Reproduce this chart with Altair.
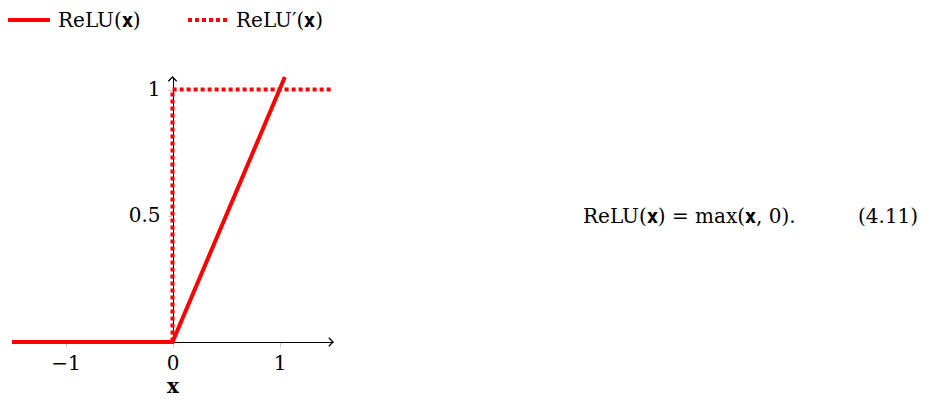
import altair as alt
import pandas as pd

# data
relu_x = [-1.5, 0.0, 1.05]
relu_y = [0.0, 0.0, 1.05]
deriv_x = [-1.5, 0.0, 0.0, 1.5]
deriv_y = [0.0, 0.0, 1.0, 1.0]
x_ticks = [-1, 0, 1]
y_ticks = [0.5, 1]
x_domain = [-1.5, 1.5]
y_domain = [0, 1.05]
legend_labels = ["ReLU(𝐱)", "ReLU′(𝐱)"]
equation = "ReLU(𝐱) = max(𝐱, 0)."
eq_number = "(4.11)"

FONT = "DejaVu Serif"
FS = 20
RED = "#ff0000"

relu_df = pd.DataFrame({"x": relu_x, "y": relu_y, "i": range(len(relu_x))})
deriv_df = pd.DataFrame({"x": deriv_x, "y": deriv_y, "i": range(len(deriv_x))})

xs = alt.Scale(domain=x_domain, nice=False, zero=False)
ys = alt.Scale(domain=y_domain, nice=False, zero=False)

x_axis = alt.Axis(values=x_ticks, format="~g", domainColor="black", domainWidth=1, tickColor="#c8c8c8",
                  tickSize=5, labelFont=FONT, labelFontSize=FS, labelColor="black",
                  labelPadding=6, grid=False, title="x", titleFont=FONT, titleFontSize=FS,
                  titleFontWeight="bold", titleColor="black", titlePadding=3)
y_axis = alt.Axis(values=y_ticks, format="~g", orient="left", offset=-161, domainColor="black", domainWidth=1,
                  tickColor="#c8c8c8", tickSize=5, labelFont=FONT, labelFontSize=FS,
                  labelColor="black", labelPadding=8, grid=False, title=None)

deriv = alt.Chart(deriv_df).mark_line(color=RED, strokeWidth=4, strokeDash=[4, 3]).encode(
    x=alt.X("x:Q", scale=xs, axis=x_axis),
    y=alt.Y("y:Q", scale=ys, axis=y_axis),
    order="i:Q",
)
relu = alt.Chart(relu_df).mark_line(color=RED, strokeWidth=4).encode(
    x=alt.X("x:Q", scale=xs),
    y=alt.Y("y:Q", scale=ys),
    order="i:Q",
)

arrow_df_x = pd.DataFrame({"x": [x_domain[1]], "y": [0.0]})
arrow_df_y = pd.DataFrame({"x": [0.0], "y": [y_domain[1]]})
arrow_x = alt.Chart(arrow_df_x).mark_point(shape="M -1 -1 L 0 0 L -1 1", size=70, filled=False,
                                           stroke="black", strokeWidth=1.3, opacity=1).encode(
    x=alt.X("x:Q", scale=xs), y=alt.Y("y:Q", scale=ys))
arrow_y = alt.Chart(arrow_df_y).mark_point(shape="M -1 1 L 0 0 L 1 1", size=70, filled=False,
                                           stroke="black", strokeWidth=1.3, opacity=1).encode(
    x=alt.X("x:Q", scale=xs), y=alt.Y("y:Q", scale=ys))

# legend
one = pd.DataFrame({"a": [0]})
leg_solid = alt.Chart(one).mark_rule(color=RED, strokeWidth=4).encode(
    x=alt.value(-4), x2=alt.value(38), y=alt.value(-57))
leg_dot = alt.Chart(one).mark_rule(color=RED, strokeWidth=4, strokeDash=[4, 3]).encode(
    x=alt.value(176), x2=alt.value(216), y=alt.value(-57))
leg_t1 = alt.Chart(one).mark_text(text=legend_labels[0], font=FONT, fontSize=FS, align="left",
                                  baseline="middle", color="black").encode(
    x=alt.value(46), y=alt.value(-56))
leg_t2 = alt.Chart(one).mark_text(text=legend_labels[1], font=FONT, fontSize=FS, align="left",
                                  baseline="middle", color="black").encode(
    x=alt.value(224), y=alt.value(-56))

eq = alt.Chart(one).mark_text(text=equation, font=FONT, fontSize=FS, align="left",
                              baseline="middle", color="black").encode(
    x=alt.value(571), y=alt.value(140))
eqn = alt.Chart(one).mark_text(text=eq_number, font=FONT, fontSize=FS, align="left",
                               baseline="middle", color="black").encode(
    x=alt.value(846), y=alt.value(140))

chart = alt.layer(deriv, relu, arrow_x, arrow_y, leg_solid, leg_dot, leg_t1, leg_t2, eq, eqn).properties(
    width=321, height=265,
    autosize=alt.AutoSizeParams(type="none"),
    padding={"left": 4, "top": 69, "right": 593, "bottom": 55},
    background="white",
).configure_view(stroke=None)

chart.save("out.html", embed_options={"renderer": "svg", "actions": False})
